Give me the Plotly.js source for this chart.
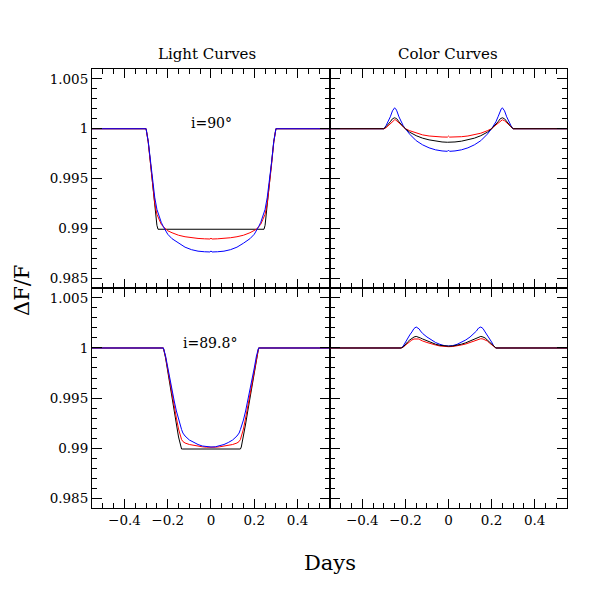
<!DOCTYPE html>
<html>
<head>
<meta charset="utf-8">
<script src="https://cdn.plot.ly/plotly-3.0.1.min.js"></script>
<style>html,body{margin:0;padding:0;background:#fff}#chart{width:599px;height:599px}</style>
</head>
<body>
<div id="chart"></div>
<script>
// ---- data ----
const xTop = [-0.55,-0.30,-0.29,-0.28,-0.27,-0.26,-0.25,-0.245,-0.24,-0.23,-0.22,-0.21,-0.20,-0.18,-0.15,-0.12,-0.09,-0.06,-0.03,-0.005,0,0.005,0.03,0.06,0.09,0.12,0.15,0.18,0.20,0.21,0.22,0.23,0.24,0.245,0.25,0.26,0.27,0.28,0.29,0.30,0.55];
const lcTopBlack = [1,1,0.9987,0.9965,0.9944,0.9923,0.9903,0.9899,0.9899,0.9899,0.9899,0.9899,0.9899,0.9899,0.9899,0.9899,0.9899,0.9899,0.9899,0.9899,0.9899,0.9899,0.9899,0.9899,0.9899,0.9899,0.9899,0.9899,0.9899,0.9899,0.9899,0.9899,0.9899,0.9899,0.9903,0.9923,0.9944,0.9965,0.9987,1,1];
const lcTopRed = [1,1,0.9986,0.9964,0.9943,0.9925,0.9914,0.99115,0.9909,0.9904,0.99015,0.9899,0.98975,0.98955,0.9893,0.98915,0.98905,0.98898,0.98894,0.98892,0.9890,0.98892,0.98894,0.98898,0.98905,0.98915,0.9893,0.98955,0.98975,0.9899,0.99015,0.9904,0.9909,0.99115,0.9914,0.9925,0.9943,0.9964,0.9986,1,1];
const lcTopBlue = [1,1,0.9987,0.9966,0.9947,0.9931,0.9919,0.99155,0.9912,0.9906,0.99015,0.98975,0.9894,0.98895,0.9885,0.9881,0.98785,0.9877,0.98764,0.98762,0.98772,0.98762,0.98764,0.9877,0.98785,0.9881,0.9885,0.98895,0.9894,0.98975,0.99015,0.9906,0.9912,0.99155,0.9919,0.9931,0.9947,0.9966,0.9987,1,1];
const ccTopBlue = [1,1,1.0003,1.0007,1.0012,1.0018,1.0021,1.0020,1.0018,1.0012,1.0007,1.0003,1.0,0.99945,0.9988,0.99838,0.99808,0.99788,0.99777,0.99773,0.99785,0.99773,0.99777,0.99788,0.99808,0.99838,0.9988,0.99945,1.0,1.0003,1.0007,1.0012,1.0018,1.0020,1.0021,1.0018,1.0012,1.0007,1.0003,1,1];
const ccTopBlack = [1,1,1.0002,1.0004,1.0007,1.0010,1.0011,1.00105,1.0010,1.0007,1.0004,1.0002,1.0,0.99965,0.9993,0.99905,0.99888,0.99875,0.99867,0.99864,0.99864,0.99864,0.99867,0.99875,0.99888,0.99905,0.9993,0.99965,1.0,1.0002,1.0004,1.0007,1.0010,1.00105,1.0011,1.0010,1.0007,1.0004,1.0002,1,1];
const ccTopRed = [1,1,1.0001,1.0003,1.0006,1.0008,1.0009,1.00088,1.0008,1.0006,1.0004,1.0002,1.0,0.9998,0.99955,0.99938,0.99927,0.9992,0.99917,0.99916,0.99926,0.99916,0.99917,0.9992,0.99927,0.99938,0.99955,0.9998,1.0,1.0002,1.0004,1.0006,1.0008,1.00088,1.0009,1.0008,1.0006,1.0003,1.0001,1,1];

const xBot = [-0.55,-0.22,-0.21,-0.20,-0.19,-0.18,-0.17,-0.16,-0.15,-0.14,-0.136,-0.13,-0.12,-0.10,-0.08,-0.06,-0.04,-0.02,0,0.02,0.04,0.06,0.08,0.10,0.12,0.13,0.136,0.14,0.15,0.16,0.17,0.18,0.19,0.20,0.21,0.22,0.55];
const lcBotBlack = [1,1,0.9990,0.9976,0.9963,0.9950,0.9937,0.9924,0.9911,0.9901,0.9899,0.9899,0.9899,0.9899,0.9899,0.9899,0.9899,0.9899,0.9899,0.9899,0.9899,0.9899,0.9899,0.9899,0.9899,0.9899,0.9899,0.9901,0.9911,0.9924,0.9937,0.9950,0.9963,0.9976,0.9990,1,1];
const lcBotRed = [1,1,0.9991,0.9978,0.9966,0.9954,0.9942,0.9930,0.9919,0.9911,0.99085,0.99065,0.9905,0.99035,0.99025,0.99018,0.99012,0.99008,0.99005,0.99008,0.99012,0.99018,0.99025,0.99035,0.9905,0.99065,0.99085,0.9911,0.9919,0.9930,0.9942,0.9954,0.9966,0.9978,0.9991,1,1];
const lcBotBlue = [1,1,0.9992,0.9980,0.9969,0.9958,0.9947,0.9937,0.9928,0.9921,0.99185,0.9915,0.9912,0.9908,0.99055,0.99035,0.9902,0.99012,0.9901,0.99012,0.9902,0.99035,0.99055,0.9908,0.9912,0.9915,0.99185,0.9921,0.9928,0.9937,0.9947,0.9958,0.9969,0.9980,0.9992,1,1];
const ccBotBlue = [1,1,1.0002,1.0006,1.0010,1.0013,1.0016,1.00195,1.0021,1.0020,1.0019,1.0017,1.00145,1.0011,1.0008,1.00055,1.00037,1.00024,1.0002,1.00024,1.00037,1.00055,1.0008,1.0011,1.00145,1.0017,1.0019,1.0020,1.0021,1.00195,1.0016,1.0013,1.0010,1.0006,1.0002,1,1];
const ccBotBlack = [1,1,1.0001,1.0004,1.0006,1.0008,1.0010,1.0011,1.00116,1.0011,1.00105,1.0010,1.0009,1.0007,1.00052,1.00038,1.00027,1.0002,1.00018,1.0002,1.00027,1.00038,1.00052,1.0007,1.0009,1.0010,1.00105,1.0011,1.00116,1.0011,1.0010,1.0008,1.0006,1.0004,1.0001,1,1];
const ccBotRed = [1,1,1.0001,1.0003,1.0005,1.0007,1.0008,1.0009,1.00093,1.0009,1.00087,1.0008,1.0007,1.00055,1.0004,1.0003,1.0002,1.00015,1.00013,1.00015,1.0002,1.0003,1.0004,1.00055,1.0007,1.0008,1.00087,1.0009,1.00093,1.0009,1.0008,1.0007,1.0005,1.0003,1.0001,1,1];

const xTickVals = [-0.4,-0.2,0,0.2,0.4];
const xTickText = ['\u22120.4','\u22120.2','0','0.2','0.4'];
const yTickVals = [0.985,0.99,0.995,1,1.005];
const yTickText = ['0.985','0.99','0.995','1','1.005'];
const panelTitles = ['Light Curves','Color Curves'];
const incLabels = ['i=90\u00b0','i=89.8\u00b0'];

// ---- styles ----
const FONT = 'DejaVu Serif';
const BLK = '#000000', RED = '#ff0000', BLU = '#0000ff';
function tr(x, y, c, xa, ya) {
  return {x: x, y: y, type: 'scatter', mode: 'lines', line: {color: c, width: 1}, xaxis: xa, yaxis: ya, hoverinfo: 'skip'};
}
const traces = [
  tr(xTop, lcTopBlack, BLK, 'x', 'y'), tr(xTop, lcTopRed, RED, 'x', 'y'), tr(xTop, lcTopBlue, BLU, 'x', 'y'),
  tr(xTop, ccTopBlue, BLU, 'x2', 'y2'), tr(xTop, ccTopRed, RED, 'x2', 'y2'), tr(xTop, ccTopBlack, BLK, 'x2', 'y2'),
  tr(xBot, lcBotBlack, BLK, 'x3', 'y3'), tr(xBot, lcBotRed, RED, 'x3', 'y3'), tr(xBot, lcBotBlue, BLU, 'x3', 'y3'),
  tr(xBot, ccBotBlue, BLU, 'x4', 'y4'), tr(xBot, ccBotRed, RED, 'x4', 'y4'), tr(xBot, ccBotBlack, BLK, 'x4', 'y4')
];

const xL = [0.1536, 0.5509], xR = [0.5509, 0.9466];
const yT = [0.5192, 0.8848], yB = [0.1519, 0.5192];
function xax(dom, anchor, labels) {
  return {domain: dom, anchor: anchor, range: [-0.55, 0.55], showline: true, linecolor: BLK, linewidth: 1,
    mirror: 'allticks', ticks: 'inside', ticklen: 9, tickwidth: 1, tickcolor: BLK,
    tickmode: 'array', tickvals: xTickVals, ticktext: xTickText, showticklabels: labels,
    minor: {ticks: 'inside', ticklen: 5, tickwidth: 1, tickcolor: BLK, dtick: 0.05, tick0: 0, showgrid: false},
    showgrid: false, zeroline: false, fixedrange: true,
    tickfont: {family: FONT, size: 13.5, color: BLK}};
}
function yax(dom, anchor, labels) {
  return {domain: dom, anchor: anchor, range: [0.984, 1.006], showline: true, linecolor: BLK, linewidth: 1,
    mirror: 'allticks', ticks: 'inside', ticklen: 10, tickwidth: 1, tickcolor: BLK,
    tickmode: 'array', tickvals: yTickVals, ticktext: yTickText, showticklabels: labels,
    minor: {ticks: 'inside', ticklen: 5, tickwidth: 1, tickcolor: BLK, dtick: 0.001, tick0: 0, showgrid: false},
    showgrid: false, zeroline: false, fixedrange: true,
    tickfont: {family: FONT, size: 13.5, color: BLK}};
}
function ann(text, x, y, size, angle) {
  return {text: text, xref: 'paper', yref: 'paper', x: x, y: y, xanchor: 'center', yanchor: 'middle',
    showarrow: false, textangle: angle || 0, font: {family: FONT, size: size, color: BLK}};
}
const layout = {
  width: 599, height: 599, margin: {l: 0, r: 0, t: 0, b: 0},
  paper_bgcolor: '#fff', plot_bgcolor: '#fff', showlegend: false,
  xaxis: xax(xL, 'y', false), yaxis: yax(yT, 'x', true),
  xaxis2: xax(xR, 'y2', false), yaxis2: yax(yT, 'x2', false),
  xaxis3: xax(xL, 'y3', true), yaxis3: yax(yB, 'x3', true),
  xaxis4: xax(xR, 'y4', true), yaxis4: yax(yB, 'x4', false),
  annotations: [
    ann(panelTitles[0], 0.3456, 0.9098, 15),
    ann(panelTitles[1], 0.748, 0.9098, 15),
    ann(incLabels[0], 0.3523, 0.7947, 14),
    ann(incLabels[1], 0.3506, 0.4274, 14),
    ann('Days', 0.551, 0.0601, 21),
    ann('\u0394F/F', 0.0367, 0.5159, 21, -90)
  ]
};
Plotly.newPlot('chart', traces, layout, {staticPlot: true, displayModeBar: false});
</script>
</body>
</html>
